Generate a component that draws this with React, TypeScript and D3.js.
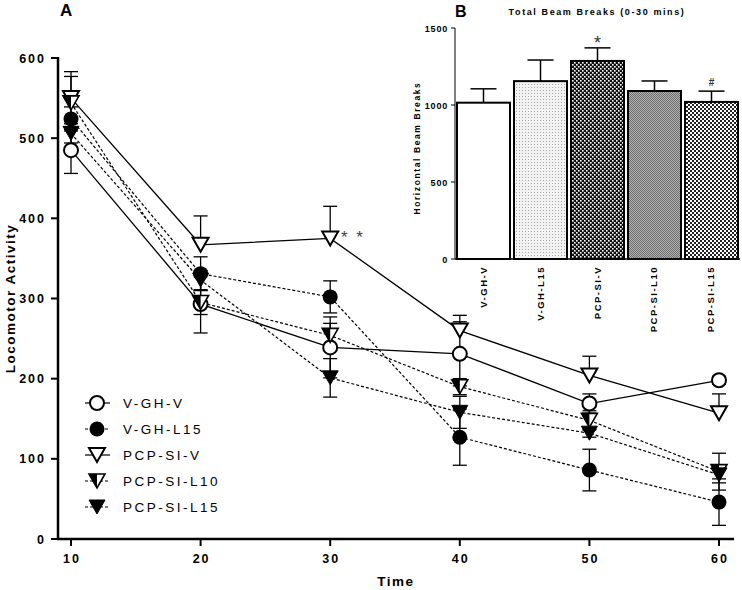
import * as d3 from "d3";

const times = [10, 20, 30, 40, 50, 60];
const yTicks = [0, 100, 200, 300, 400, 500, 600];

// Panel A: mean locomotor activity per group (+ SEM)
const vghV = [485, 293, 239, 231, 169, 198];
const vghVErr = [29, 36, 38, 40, 12, 5];
const vghL15 = [524, 331, 302, 127, 86, 46];
const vghL15Err = [15, 21, 20, 35, 26, 29];
const pcpV = [550, 367, 375, 260, 204, 157];
const pcpVErr = [33, 36, 40, 19, 24, 24];
const pcpL10 = [544, 295, 254, 190, 148, 84];
const pcpL10Err = [33, 15, 15, 10, 12, 23];
const pcpL15 = [506, 323, 201, 158, 132, 80];
const pcpL15Err = [12, 12, 24, 20, 5, 10];

// Panel B: total beam breaks (0-30 mins)
const groups = ["V-GH-V", "V-GH-L15", "PCP-SI-V", "PCP-SI-L10", "PCP-SI-L15"];
const beamBreaks = [1015, 1155, 1286, 1091, 1020];
const beamErr = [90, 137, 85, 65, 70];
const beamMarks = ["", "", "*", "", "#"];
const insetTicks = [0, 500, 1000, 1500];

const series = [
  { name: "V-GH-V", values: vghV, err: vghVErr, marker: "circleOpen", dashed: false, dir: "both" },
  { name: "V-GH-L15", values: vghL15, err: vghL15Err, marker: "circleFilled", dashed: true, dir: "both" },
  { name: "PCP-SI-V", values: pcpV, err: pcpVErr, marker: "triOpen", dashed: false, dir: "up" },
  { name: "PCP-SI-L10", values: pcpL10, err: pcpL10Err, marker: "triHalf", dashed: true, dir: "both" },
  { name: "PCP-SI-L15", values: pcpL15, err: pcpL15Err, marker: "triFilled", dashed: true, dir: "both" },
];

const fontFam = "'Liberation Sans', Arial, sans-serif";
const tri = "M-8,-7L8,-7L0,7Z";

function Marker({ type, x, y }: { type: string; x: number; y: number }) {
  const t = `translate(${x},${y})`;
  if (type === "circleOpen")
    return <circle cx={x} cy={y} r={7} fill="white" stroke="black" strokeWidth={2} />;
  if (type === "circleFilled") return <circle cx={x} cy={y} r={7.5} fill="black" />;
  if (type === "triOpen")
    return <path transform={t} d={tri} fill="white" stroke="black" strokeWidth={2} />;
  if (type === "triHalf")
    return (
      <g transform={t}>
        <path d={tri} fill="white" stroke="black" strokeWidth={1.6} />
        <path d="M-8,-7L0,-7L0,7Z" fill="black" />
      </g>
    );
  return <path transform={t} d={tri} fill="black" stroke="black" strokeWidth={1} />;
}

export default function App() {
  const x = d3.scaleLinear().domain([10, 60]).range([71, 719]);
  const y = d3.scaleLinear().domain([0, 600]).range([539, 58]);
  const line = d3
    .line<number>()
    .x((_, i) => x(times[i]))
    .y((d) => y(d));

  const bx = d3.scaleBand().domain(groups).range([456, 739]).paddingInner(0.035);
  const by = d3.scaleLinear().domain([0, 1500]).range([259, 28]);
  const fills = ["white", "url(#p2)", "url(#p3)", "url(#p4)", "url(#p5)"];

  return (
    <svg width={742} height={590} style={{ position: "absolute", left: 0, top: 0 }} fontFamily={fontFam}>
      <defs>
        <pattern id="p2" width={3} height={3} patternUnits="userSpaceOnUse">
          <rect width={3} height={3} fill="#f2f2f2" />
          <rect width={1} height={1} fill="#aaa" />
        </pattern>
        <pattern id="p3" width={4} height={4} patternUnits="userSpaceOnUse">
          <rect width={4} height={4} fill="#111" />
          <rect x={0} y={0} width={1.6} height={1.6} fill="white" />
          <rect x={2} y={2} width={1.6} height={1.6} fill="white" />
        </pattern>
        <pattern id="p4" width={2} height={2} patternUnits="userSpaceOnUse">
          <rect width={2} height={2} fill="#b0b0b0" />
          <rect width={1} height={1} fill="#707070" />
          <rect x={1} y={1} width={1} height={1} fill="#707070" />
        </pattern>
        <pattern id="p5" width={4} height={4} patternUnits="userSpaceOnUse">
          <rect width={4} height={4} fill="white" />
          <rect width={2} height={2} fill="#222" />
          <rect x={2} y={2} width={2} height={2} fill="#222" />
        </pattern>
      </defs>

      {/* Panel A */}
      <text x={60} y={16} fontSize={17} fontWeight="bold">A</text>

      <line x1={58} x2={58} y1={57} y2={540} stroke="black" strokeWidth={2.5} />
      <line x1={57} x2={734} y1={539} y2={539} stroke="black" strokeWidth={2.5} />
      {yTicks.map((t) => (
        <g key={t}>
          <line x1={51} x2={58} y1={y(t)} y2={y(t)} stroke="black" strokeWidth={2} />
          <text x={46} y={y(t) + 4.5} textAnchor="end" fontSize={12.5} fontWeight="bold" letterSpacing={2}>
            {t}
          </text>
        </g>
      ))}
      {times.map((t) => (
        <g key={t}>
          <line x1={x(t)} x2={x(t)} y1={539} y2={546} stroke="black" strokeWidth={2} />
          <text x={x(t) + 1} y={563} textAnchor="middle" fontSize={12.5} fontWeight="bold" letterSpacing={2}>
            {t}
          </text>
        </g>
      ))}
      <text x={396} y={586} textAnchor="middle" fontSize={13.5} fontWeight="bold" letterSpacing={1.5}>
        Time
      </text>
      <text
        transform={`translate(15,${y(300)}) rotate(-90)`}
        textAnchor="middle"
        fontSize={13.5}
        fontWeight="bold"
        letterSpacing={1.5}
      >
        Locomotor Activity
      </text>

      {series.map((s) => (
        <path
          key={s.name}
          d={line(s.values) || ""}
          fill="none"
          stroke="black"
          strokeWidth={s.dashed ? 1.2 : 1.3}
          strokeDasharray={s.dashed ? "3,2" : undefined}
        />
      ))}
      {series.map((s) =>
        s.values.map((v, i) => {
          const cx = x(times[i]);
          const hi = v + s.err[i];
          const lo = s.dir === "up" ? v : v - s.err[i];
          return (
            <g key={s.name + i} stroke="black" strokeWidth={1.3}>
              <line x1={cx} x2={cx} y1={y(lo)} y2={y(hi)} />
              <line x1={cx - 7} x2={cx + 7} y1={y(hi)} y2={y(hi)} />
              {s.dir !== "up" && <line x1={cx - 7} x2={cx + 7} y1={y(lo)} y2={y(lo)} />}
            </g>
          );
        })
      )}
      {series.map((s) =>
        s.values.map((v, i) => <Marker key={s.name + "m" + i} type={s.marker} x={x(times[i])} y={y(v)} />)
      )}
      <text x={341} y={y(375) + 5} fontSize={17} fill="#444" letterSpacing={2}>* *</text>

      {/* legend */}
      {series.map((s, i) => {
        const ly = 403 + i * 26;
        return (
          <g key={s.name}>
            <line
              x1={85}
              x2={110}
              y1={ly}
              y2={ly}
              stroke="black"
              strokeWidth={1.2}
              strokeDasharray={s.dashed ? "3,2" : undefined}
            />
            <Marker type={s.marker} x={97} y={ly} />
            <text x={123} y={ly + 5} fontSize={13.5} letterSpacing={2.5}>
              {s.name}
            </text>
          </g>
        );
      })}

      {/* Panel B inset */}
      <text x={455} y={17} fontSize={16} fontWeight="bold">B</text>
      <text x={597} y={15} textAnchor="middle" fontSize={9} fontWeight="bold" letterSpacing={1.6}>
        Total Beam Breaks (0-30 mins)
      </text>
      <line x1={455} x2={455} y1={28} y2={259} stroke="black" strokeWidth={1} />
      {insetTicks.map((t) => (
        <g key={t}>
          <line x1={451} x2={455} y1={by(t)} y2={by(t)} stroke="black" strokeWidth={1} />
          <text x={448} y={by(t) + 3.5} textAnchor="end" fontSize={9} fontWeight="bold" letterSpacing={0.8}>
            {t}
          </text>
        </g>
      ))}
      <text
        transform={`translate(420,${by(720)}) rotate(-90)`}
        textAnchor="middle"
        fontSize={8.5}
        fontWeight="bold"
        letterSpacing={1.6}
      >
        Horizontal Beam Breaks
      </text>
      {groups.map((g, i) => {
        const x0 = bx(g) || 0;
        const w = bx.bandwidth();
        const cx = x0 + w / 2;
        const top = by(beamBreaks[i] + beamErr[i]);
        return (
          <g key={g}>
            <line x1={cx} x2={cx} y1={by(beamBreaks[i])} y2={top} stroke="black" strokeWidth={1.5} />
            <line x1={cx - 13} x2={cx + 13} y1={top} y2={top} stroke="black" strokeWidth={1.5} />
            <rect
              x={x0 + 1}
              y={by(beamBreaks[i])}
              width={w - 2}
              height={259 - by(beamBreaks[i])}
              fill={fills[i]}
              stroke="black"
              strokeWidth={2}
            />
            {beamMarks[i] === "*" && (
              <text x={cx} y={top + 1} textAnchor="middle" fontSize={18} fill="#333">*</text>
            )}
            {beamMarks[i] === "#" && (
              <text x={cx} y={top - 5} textAnchor="middle" fontSize={10} fontWeight="bold" fill="#333">#</text>
            )}
            <text
              transform={`translate(${cx + 3},266) rotate(-90)`}
              textAnchor="end"
              fontSize={9.5}
              fontWeight="bold"
              letterSpacing={1.5}
            >
              {g}
            </text>
          </g>
        );
      })}
      <line x1={455} x2={740} y1={259} y2={259} stroke="black" strokeWidth={1.5} />
    </svg>
  );
}
